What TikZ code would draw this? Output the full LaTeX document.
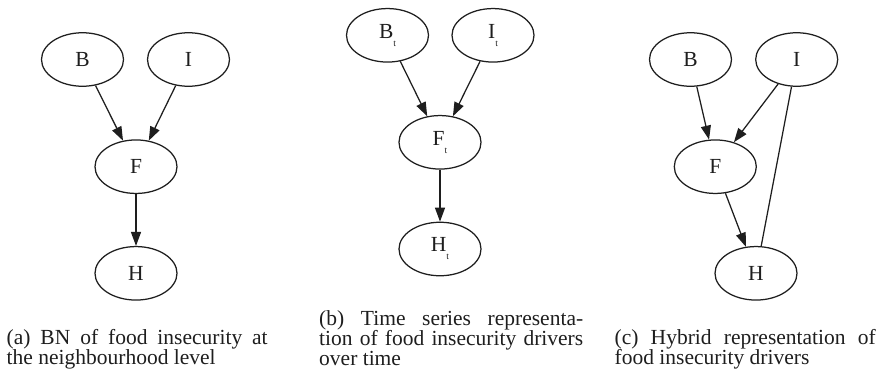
\documentclass[tikz,border=0pt]{standalone}
\usepackage{fontspec}
\setmainfont{Liberation Serif}
\usetikzlibrary{shapes.geometric,arrows.meta}
\definecolor{ink}{RGB}{30,30,30}
\newcommand{\subt}{{\fontsize{9.5}{9.5}\selectfont\raisebox{-8pt}{t}}}
\tikzset{
  var/.style={ellipse, draw=ink, line width=1.25pt, text=ink,
    minimum width=82pt, minimum height=53.5pt, inner sep=0pt,
    font=\fontsize{21.5}{21.5}\selectfont},
  dirlink/.style={draw=ink, line width=1.25pt, -{Triangle[length=14pt,width=10pt]}},
  undirlink/.style={draw=ink, line width=1.25pt},
  captext/.style={anchor=base west, inner sep=0pt, text=ink,
    font=\fontsize{21.5}{19.5}\selectfont}
}
\begin{document}
\begin{tikzpicture}[x=1pt,y=-1pt]
\useasboundingbox (0,0) rectangle (880,375);
\fill[white] (0,0) rectangle (880,375);

% (a) neighbourhood-level network
\node[var] (aB) at (82.5,59.5) {B};
\node[var] (aI) at (188.5,59.5) {I};
\node[var] (aF) at (136,166.7) {F};
\node[var] (aH) at (136,273.3) {H};
\draw[dirlink] (aB) -- (aF);
\draw[dirlink] (aI) -- (aF);
\draw[dirlink] (aF) -- (aH);
\node[captext] (capa) at (6.5,344) {\parbox[t]{261pt}{(a) BN of food insecurity at\linebreak the neighbourhood level}};

% (b) time-indexed network
\node[var] (bB) at (387.5,35.3) {B\subt};
\node[var] (bI) at (493,35.3) {I\subt};
\node[var] (bF) at (440,142.3) {F\subt};
\node[var] (bH) at (440,249) {H\subt};
\draw[dirlink] (bB) -- (bF);
\draw[dirlink] (bI) -- (bF);
\draw[dirlink] (bF) -- (bH);
\node[captext] (capb) at (319,325) {\parbox[t]{264pt}{(b) Time series representa-\linebreak tion of food insecurity drivers\linebreak over time}};

% (c) hybrid network
\node[var] (cB) at (690.5,59.5) {B};
\node[var] (cI) at (796.7,59.5) {I};
\node[var] (cF) at (715.3,166.7) {F};
\node[var] (cH) at (756,273.3) {H};
\draw[dirlink] (cB) -- (cF);
\draw[dirlink] (cI) -- (cF);
\draw[dirlink] (cF) -- (cH);
\draw[undirlink] (cI) -- (cH);
\node[captext] (capc) at (614.5,344) {\parbox[t]{261pt}{(c) Hybrid representation of\linebreak food insecurity drivers}};
\end{tikzpicture}
\end{document}
